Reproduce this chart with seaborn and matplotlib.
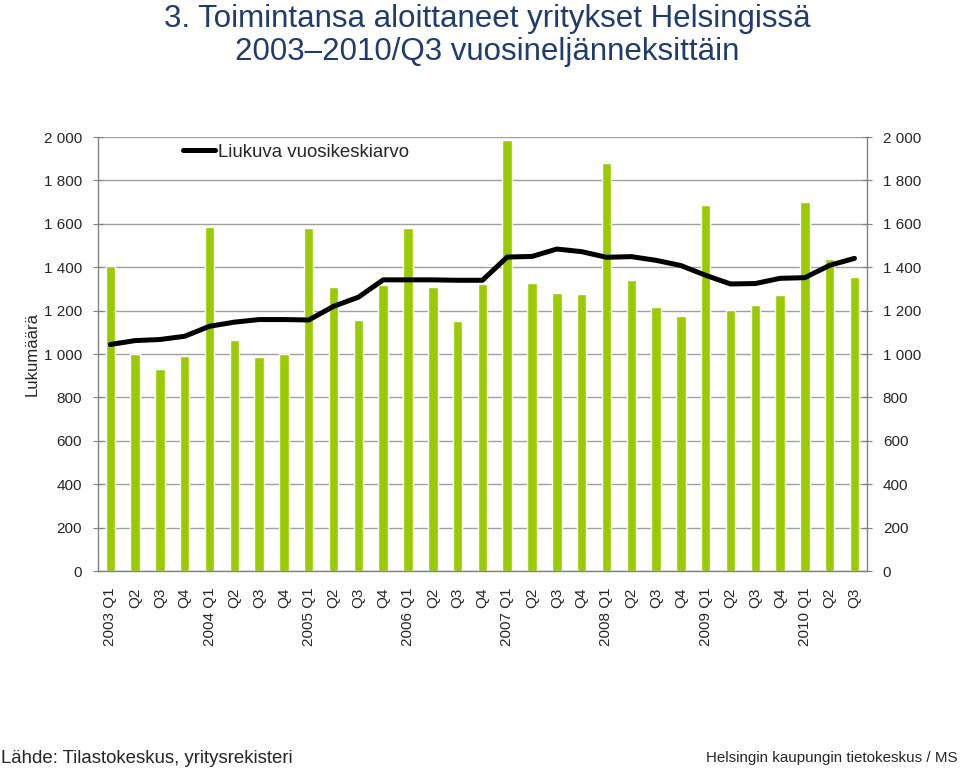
import matplotlib.pyplot as plt
import seaborn as sns
import pandas as pd
import numpy as np
from matplotlib.ticker import FuncFormatter, MultipleLocator

# Kvartaalit (kategoriat) ja niiden näyttönimet
quarters = [
    "2003 Q1", "2003 Q2", "2003 Q3", "2003 Q4",
    "2004 Q1", "2004 Q2", "2004 Q3", "2004 Q4",
    "2005 Q1", "2005 Q2", "2005 Q3", "2005 Q4",
    "2006 Q1", "2006 Q2", "2006 Q3", "2006 Q4",
    "2007 Q1", "2007 Q2", "2007 Q3", "2007 Q4",
    "2008 Q1", "2008 Q2", "2008 Q3", "2008 Q4",
    "2009 Q1", "2009 Q2", "2009 Q3", "2009 Q4",
    "2010 Q1", "2010 Q2", "2010 Q3",
]
tick_labels = [
    "2003 Q1", "Q2", "Q3", "Q4",
    "2004 Q1", "Q2", "Q3", "Q4",
    "2005 Q1", "Q2", "Q3", "Q4",
    "2006 Q1", "Q2", "Q3", "Q4",
    "2007 Q1", "Q2", "Q3", "Q4",
    "2008 Q1", "Q2", "Q3", "Q4",
    "2009 Q1", "Q2", "Q3", "Q4",
    "2010 Q1", "Q2", "Q3",
]

# Aloittaneet yritykset kvartaaleittain
started = [
    1408, 998, 929, 993,
    1586, 1064, 987, 998,
    1583, 1309, 1159, 1320,
    1583, 1309, 1154, 1323,
    1988, 1328, 1282, 1277,
    1880, 1343, 1216, 1177,
    1688, 1203, 1228, 1274,
    1699, 1438, 1354,
]

# Liukuva vuosikeskiarvo
moving_avg = [
    1044, 1062, 1067, 1082,
    1128, 1147, 1159, 1159,
    1157, 1220, 1262, 1342,
    1342, 1342, 1340, 1340,
    1447, 1450, 1484, 1472,
    1446, 1449, 1432, 1408,
    1363, 1323, 1325, 1349,
    1352, 1409, 1441,
]

sns.set_style("white")
plt.rcParams["font.family"] = ["Liberation Sans", "DejaVu Sans"]

df = pd.DataFrame({"quarter": quarters, "count": started})

fig = plt.figure(figsize=(9.6, 7.68), dpi=100)
ax = fig.add_axes([0.102, 0.2565, 0.801, 0.565])

sns.barplot(data=df, x="quarter", y="count", color="#99CC00", saturation=1,
            width=0.38, ax=ax)
sns.lineplot(x=np.arange(len(moving_avg)), y=moving_avg, color="black",
             linewidth=3.6, label="Liukuva vuosikeskiarvo", ax=ax)

ax.set_xlim(-0.5, len(quarters) - 0.5)
ax.set_ylim(0, 2000)
ax.yaxis.set_major_locator(MultipleLocator(200))
ax.yaxis.set_major_formatter(FuncFormatter(lambda v, p: f"{int(v):,}".replace(",", " ")))
ax.grid(axis="y", color="#a0a0a0", linewidth=1)
ax.set_axisbelow(True)

ax.set_xticks(np.arange(len(tick_labels)))
ax.set_xticklabels(tick_labels, rotation=90, fontsize=11)
ax.tick_params(axis="x", length=0, pad=12)
ax.tick_params(axis="y", which="both", left=True, right=True, labelright=True,
               direction="inout", length=7, color="#808080", labelsize=11, pad=8)

for side in ["left", "right", "bottom"]:
    ax.spines[side].set_color("#808080")
    ax.spines[side].set_linewidth(1)
ax.spines["top"].set_visible(False)

ax.set_xlabel("")
ax.set_ylabel("Lukumäärä", fontsize=12, labelpad=3)

ax.legend(loc="upper left", bbox_to_anchor=(0.11, 0.985), frameon=False,
          fontsize=13.4, handlelength=1.75, handletextpad=0.15,
          borderaxespad=0, borderpad=0)

fig.text(0.508, 0.975, "3. Toimintansa aloittaneet yritykset Helsingissä",
         ha="center", va="center", fontsize=22.5, color="#1F3C6E")
fig.text(0.508, 0.932, "2003\u20132010/Q3 vuosineljänneksittäin",
         ha="center", va="center", fontsize=22.5, color="#1F3C6E")

fig.text(0.001, 0.013, "Lähde: Tilastokeskus, yritysrekisteri", ha="left",
         va="center", fontsize=13.4, family=["Liberation Sans Narrow", "Liberation Sans"])
fig.text(0.998, 0.013, "Helsingin kaupungin tietokeskus / MS", ha="right",
         va="center", fontsize=10.9, family=["Liberation Sans Narrow", "Liberation Sans"])

fig.savefig("out.png", dpi=100)
